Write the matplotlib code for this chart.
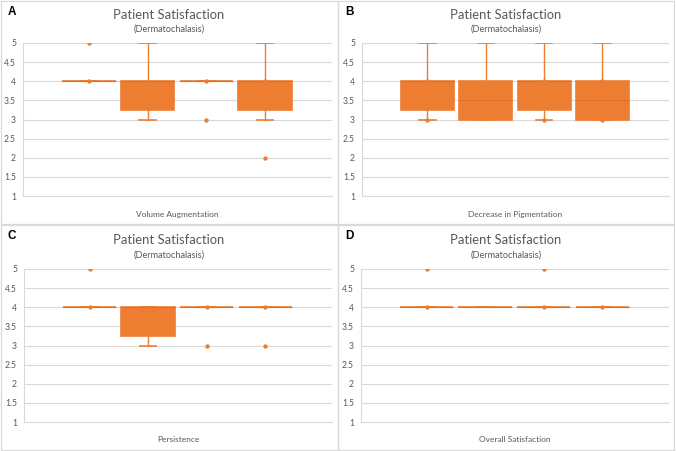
import matplotlib
matplotlib.use("Agg")
import matplotlib.pyplot as plt
from matplotlib.lines import Line2D

plt.rcParams['font.family'] = ['Lato', 'DejaVu Sans']

ORANGE = "#ED7D31"
GRID = "#D9D9D9"
TEXT = "#595959"

# Excel box-and-whisker stats, 4 series per panel
PANELS = ["A", "B", "C", "D"]
CATEGORIES = ["Volume Augmentation", "Decrease in Pigmentation", "Persistence", "Overall Satisfaction"]

whislo = {
    "A": [4, 3, 4, 3],
    "B": [3, 3, 3, 3],
    "C": [4, 3, 4, 4],
    "D": [4, 4, 4, 4],
}
q1 = {
    "A": [4, 3.25, 4, 3.25],
    "B": [3.25, 3, 3.25, 3],
    "C": [4, 3.25, 4, 4],
    "D": [4, 4, 4, 4],
}
med = {
    "A": [4, 4, 4, 4],
    "B": [4, 3.5, 4, 3.5],
    "C": [4, 4, 4, 4],
    "D": [4, 4, 4, 4],
}
q3 = {
    "A": [4, 4, 4, 4],
    "B": [4, 4, 4, 4],
    "C": [4, 4, 4, 4],
    "D": [4, 4, 4, 4],
}
whishi = {
    "A": [4, 5, 4, 5],
    "B": [5, 5, 5, 5],
    "C": [4, 4, 4, 4],
    "D": [4, 4, 4, 4],
}
# dots drawn on each box (mean markers and outliers)
points = {
    "A": [[4, 5], [], [4, 3], [4, 2]],
    "B": [[4, 3], [], [4, 3], [4, 3]],
    "C": [[4, 5], [], [4, 3], [4, 3]],
    "D": [[4, 5], [], [4, 5], [4]],
}

W, H = 676, 451
fig = plt.figure(figsize=(W / 100, H / 100), dpi=100)

# pixel geometry of each panel: plot area (left, top, right, bottom), panel rect, text rows
layout = {
    "A": dict(plot=(23, 43, 332, 196), panel=(0, 0, 337.5, 224), title=15, sub=29, lab=214),
    "B": dict(plot=(362, 43, 669, 196), panel=(337.5, 0, 674, 224), title=15, sub=29, lab=214),
    "C": dict(plot=(24, 269, 332, 422), panel=(0, 224, 337.5, 450), title=240, sub=255, lab=440),
    "D": dict(plot=(361, 269, 669, 422), panel=(337.5, 224, 674, 450), title=240, sub=255, lab=440),
}


def fx(px):
    return px / W


def fy(py):
    return 1 - py / H


for key, cat in zip(PANELS, CATEGORIES):
    L = layout[key]
    l, t, r, b = L["plot"]
    ax = fig.add_axes([fx(l), fy(b), (r - l) / W, (b - t) / H])

    stats = []
    for i in range(4):
        stats.append(dict(whislo=whislo[key][i], q1=q1[key][i], med=med[key][i],
                          q3=q3[key][i], whishi=whishi[key][i], fliers=[]))
    ax.bxp(stats, positions=range(4), widths=0.91, patch_artist=True,
           showfliers=False, showcaps=True,
           boxprops=dict(facecolor=ORANGE, edgecolor=ORANGE, linewidth=1.2),
           medianprops=dict(color="#DE7029", linewidth=0.8),
           whiskerprops=dict(color=ORANGE, linewidth=1),
           capprops=dict(color=ORANGE, linewidth=1.2),
           capwidths=0.28, zorder=3)
    for i, pts in enumerate(points[key]):
        ax.scatter([i] * len(pts), pts, s=10, color=ORANGE, zorder=4, linewidths=0)

    ax.set_xlim(-1.12, 4.14)
    ax.set_ylim(1, 5)
    ax.set_yticks([1, 1.5, 2, 2.5, 3, 3.5, 4, 4.5, 5])
    ax.set_yticklabels(["1", "1.5", "2", "2.5", "3", "3.5", "4", "4.5", "5"])
    ax.set_xticks([])
    ax.yaxis.grid(True, color=GRID, linewidth=0.8)
    ax.set_axisbelow(True)
    ax.tick_params(axis="y", length=0, pad=5, labelsize=6.2, labelcolor=TEXT)
    for s in ["top", "right"]:
        ax.spines[s].set_visible(False)
    ax.spines["left"].set_color(GRID)
    ax.spines["left"].set_linewidth(0.8)
    ax.spines["bottom"].set_color(GRID)
    ax.spines["bottom"].set_linewidth(0.8)

    # titles and labels
    pl, pt, pr, pb = L["panel"]
    cx = (pl + pr) / 2
    fig.text(fx(cx), fy(L["title"]), "Patient Satisfaction", ha="center", va="center",
             fontsize=9.4, color=TEXT)
    fig.text(fx(cx), fy(L["sub"]), "(Dermatochalasis)", ha="center", va="center",
             fontsize=6.6, color=TEXT)
    fig.text(fx((l + r) / 2), fy(L["lab"]), cat, ha="center", va="center",
             fontsize=6.0, color=TEXT)
    fig.text(fx(pl + 8), fy(pt + 12), key, ha="left", va="center",
             fontsize=8.5, fontweight="bold", color="black",
             family=["Liberation Sans", "DejaVu Sans"])

    # panel border
    xs = [fx(pl + 0.5), fx(pr), fx(pr), fx(pl + 0.5), fx(pl + 0.5)]
    ys = [fy(pt + 0.5), fy(pt + 0.5), fy(pb), fy(pb), fy(pt + 0.5)]
    fig.add_artist(Line2D(xs, ys, color=GRID, linewidth=0.9))

fig.savefig("out.png", dpi=100)
